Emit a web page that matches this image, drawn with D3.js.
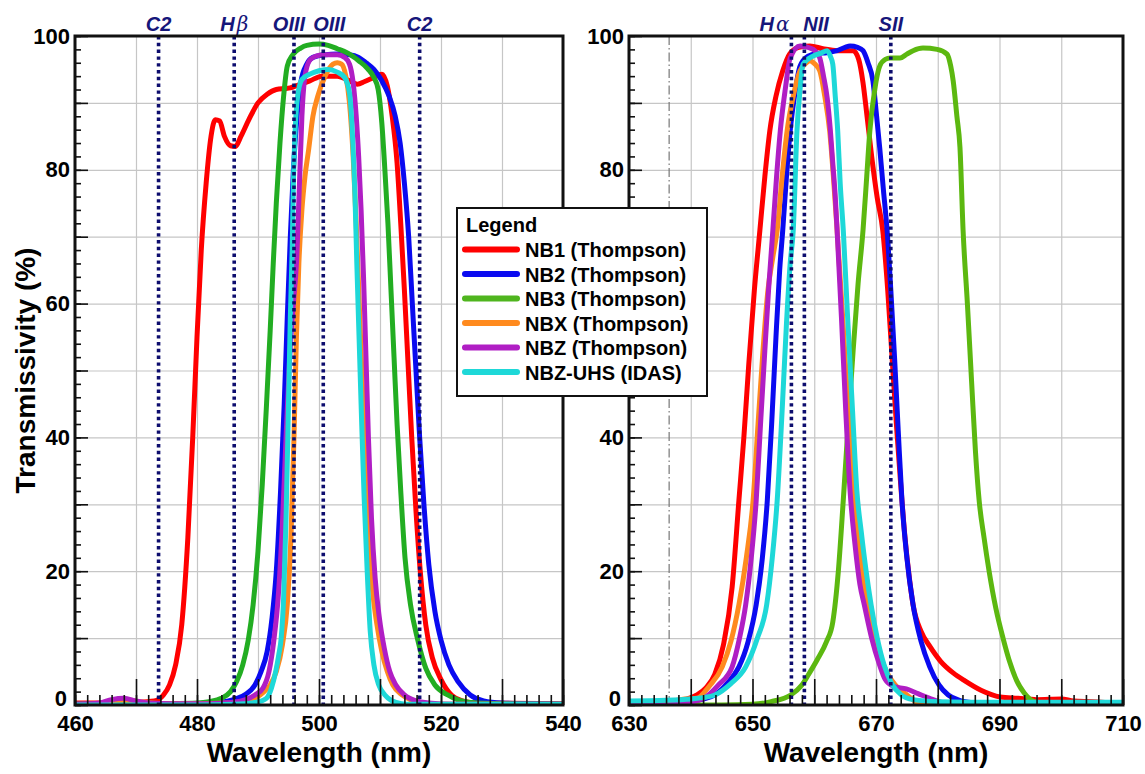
<!DOCTYPE html>
<html><head><meta charset="utf-8">
<script src="https://cdn.jsdelivr.net/npm/d3@7"></script>
<style>
body{margin:0;background:#fff}
svg{display:block}
text{font-family:Arial,"Liberation Sans",sans-serif}
</style>
</head><body>
<svg id="chart" width="1145" height="774"></svg>
<script>
// ---------------- DATA ----------------
const seriesNames = ["NB1 (Thompson)","NB2 (Thompson)","NB3 (Thompson)","NBX (Thompson)","NBZ (Thompson)","NBZ-UHS (IDAS)"];

const leftDomain = [460, 540];
const rightDomain = [630, 710];
const leftXTicks = [460, 480, 500, 520, 540];
const rightXTicks = [630, 650, 670, 690, 710];
const leftYTicks = [0, 20, 40, 60, 80, 100];
const rightYTicks = [0, 20, 40, 80, 100]; // "60" is covered by the legend in the reference

const leftLineWl = [473.7, 486.1, 495.9, 500.7, 516.5];
const leftLineLabels = ["C2", "Hβ", "OIII", "OIII", "C2"];
const rightLineWl = [656.3, 658.4, 672.4];
const rightLineLabels = ["Hα", "NII", "SII"];
const rightDashDotWl = [636.5];

// left panel (blue-green region)
const nb1Left = [[460,0.3],[465,0.3],[470,0.4],[473,0.6],[474.5,1.5],[475.5,3],[476.5,6],[477.5,12],[478.5,25],[479.3,40],[480,55],[480.7,68],[481.5,78],[482.3,85],[483,87.5],[483.7,87.3],[484.5,85],[485.5,83.6],[486.3,83.5],[487.2,85],[488.5,87.5],[490,90],[491.5,91.3],[493,92],[495,92.2],[497,92.8],[498.5,93.3],[500.5,94],[503,94],[505,93.3],[506.3,92.8],[507.5,93.2],[509,93.8],[510.3,94.3],[511.2,92.5],[512,88],[512.8,81],[513.4,72],[514,62],[514.6,51],[515.2,40],[515.9,29],[516.6,20],[517.5,12],[518.6,7],[520,3.8],[521.8,1.4],[523.5,0.6],[526,0.3],[540,0.2]];
const nb2Left = [[460,0.1],[480,0.2],[484,0.4],[486,0.8],[488,1.6],[489.5,3],[490.5,5],[491.5,8],[492.3,13],[493,20],[493.7,32],[494.3,45],[494.8,58],[495.3,70],[495.8,80],[496.4,88],[497,93],[498,95.8],[499,96.8],[501,97.2],[503,97.3],[505,97.2],[506.5,96.8],[507.7,96],[509,95],[510.3,93.3],[511.5,91],[512.5,88],[513.3,84],[514,78],[514.7,70],[515.3,60],[515.9,50],[516.5,40],[517.2,30],[518,21],[519,14],[520,9.7],[521.3,6],[522.8,3.5],[524.8,1.5],[527,0.6],[530,0.3],[535,0.2],[540,0.1]];
const nb3Left = [[460,0.1],[475,0.2],[480,0.3],[482,0.5],[484,1],[485.5,2],[486.5,3.5],[487.5,6],[488.4,9.7],[489.2,15],[490,23],[490.7,33],[491.4,45],[492,56],[492.5,66],[493,75],[493.6,84],[494.2,91],[494.8,95.5],[495.7,97.2],[497,98.2],[498,98.6],[500,98.8],[501.5,98.6],[503,98.1],[504.8,97.4],[506.5,96.3],[508,95.1],[509,93.8],[509.7,92],[510.3,87],[510.8,80],[511.3,72],[511.8,62],[512.3,52],[512.8,42],[513.4,32],[514.1,22],[515,15],[516.2,9.7],[517.5,5.5],[519,3],[521.1,1.5],[523,0.7],[526,0.3],[540,0.1]];
const nbxLeft = [[460,0.1],[464,0.2],[467,0.7],[469,0.7],[471,0.4],[475,0.2],[480,0.2],[485,0.3],[488,0.5],[489.5,1],[491,2],[492,3],[493,5],[494,9],[494.8,15],[495.4,25],[495.9,40],[496.3,55],[496.7,66],[497.2,74],[497.7,79],[498.3,83],[499,88],[499.8,91],[501,94],[502.3,95.8],[503,96],[503.7,95.8],[504.4,94],[505,90],[505.6,82],[506.1,72],[506.6,60],[507.1,48],[507.6,36],[508.2,25],[508.8,17],[509.5,12],[510.3,8],[511.2,5],[512.1,3],[513.5,1.6],[515,0.8],[517,0.3],[520,0.1],[540,0.1]];
const nbzLeft = [[460,0.1],[464,0.3],[466,0.8],[468,1],[470,0.6],[472,0.3],[476,0.2],[482,0.2],[486,0.4],[488,0.8],[489.5,1.5],[490.8,2.5],[491.8,5],[492.6,9.7],[493.3,16],[494,27],[494.6,40],[495.2,52],[495.8,60],[496.3,66],[496.8,78],[497.2,88],[497.7,94],[498.5,96.4],[499.5,97],[501,97.2],[503,97.2],[504.2,96.8],[505,95.8],[505.6,93],[506.1,88],[506.5,82],[506.9,74],[507.3,64],[507.7,52],[508.1,40],[508.6,28],[509.2,19],[509.9,13],[510.7,8.5],[511.6,5],[512.6,3],[514,1.5],[516,0.6],[518,0.3],[522,0.1],[540,0.1]];
const uhsLeft = [[460,0],[480,0],[486,0.1],[489,0.3],[490.5,0.6],[491.4,1],[492.2,2.5],[492.9,5],[493.4,7.5],[493.8,10],[494.2,16],[494.6,28],[495,45],[495.3,58],[495.6,68],[495.8,78],[496.1,86],[496.5,91],[497.2,93.5],[498.5,94.3],[500,94.8],[501.5,95],[503,94.6],[504.2,93.8],[505,91.5],[505.5,85],[505.9,76],[506.2,66],[506.6,54],[507,42],[507.4,31],[507.9,20],[508.4,11],[509,6],[509.8,3],[510.8,1.5],[512,0.6],[513.5,0.2],[515,0.1],[540,0.1]];

// right panel (red region)
const nb1Right = [[630,0.1],[634,0.2],[637,0.4],[639,0.8],[641,1.5],[642.5,2.6],[643.9,4.6],[645.3,9],[646.7,17.6],[647.8,30.6],[648.6,40],[649.4,51],[650.3,62],[651.2,71],[652,79],[652.8,85.8],[653.8,91],[654.9,94.8],[656,97.3],[657.5,98.3],[659.3,98.5],[661.4,98.1],[663.7,97.8],[666.3,97.8],[667.2,96.5],[667.9,93],[668.5,88.4],[669.3,82],[670.2,75.8],[671.1,70.9],[671.9,62],[672.6,52],[673.3,42],[674,33],[674.7,25],[675.4,19],[676,15],[677.3,11],[678.7,8.8],[680.5,6.5],[682.5,4.8],[684.4,3.6],[687,2.2],[690.1,1.2],[693,1],[696,0.8],[700,0.9],[702,0.6],[705,0.5],[710,0.2]];
const nb2Right = [[630,0.1],[636,0.2],[640,0.5],[642,0.9],[643.9,1.5],[645.5,2.8],[647,4.5],[647.8,5.7],[649.3,9.5],[650.6,15],[651.6,22],[652.4,30.6],[653.1,42],[653.8,55],[654.4,65],[654.9,71],[655.5,79],[656.1,85.8],[656.8,91],[657.7,95.5],[659,97],[660.5,97.4],[662,97.5],[663.7,97.8],[665,98.3],[665.8,98.5],[667,98.3],[667.9,97.8],[668.7,96],[669.5,93.3],[670.1,88],[670.6,83.3],[671.2,77],[671.8,70.9],[672.4,62],[673,52],[673.6,41],[674.2,30.6],[675,22],[676,15],[677.3,9.5],[678.7,5.7],[680.2,3],[681.7,1.5],[683.5,0.7],[686,0.3],[690,0.1],[710,0.1]];
const nb3Right = [[630,0],[645,0],[650,0.1],[653,0.5],[656.2,1.5],[658,3],[659.1,4.6],[660.5,6.8],[662,9.5],[663,12.4],[663.9,20],[664.7,30.6],[665.5,42],[666.3,53],[667.1,63],[667.9,71],[668.5,79],[669,85.8],[669.8,92],[670.6,95.5],[671.5,96.5],[672.3,96.7],[673.9,96.7],[675,97.3],[676,97.8],[677.6,98.2],[679.9,98],[681.5,97.3],[682.1,95.5],[682.5,93.3],[683.1,88],[683.6,83.3],[684.1,71],[684.8,60],[685.5,48],[686.1,38],[686.7,30.6],[687.5,25],[688.3,20.1],[689.4,14.5],[690.6,9.9],[691.7,6.3],[692.8,3.6],[694,1.8],[695.6,0.5],[698,0.1],[710,0]];
const nbxRight = [[630,0.1],[634,0.3],[637,0.6],[639,0.9],[641,1],[643,2.8],[645.1,5.7],[646.5,9.5],[647.8,15],[649,22],[650.1,30.6],[650.9,42],[651.7,53],[652.5,62],[653.3,67],[654,71],[654.8,79],[655.6,85.8],[656.6,91],[657.7,94.8],[658.5,95.8],[659.3,96.3],[660.1,95.8],[660.9,94.8],[661.7,91],[662.5,85.8],[663.1,79],[663.7,71],[664.6,58],[665.5,44],[666.4,32],[667.2,24],[668,18],[669.2,12.4],[670.8,7],[672,4.5],[673.1,3],[675,1.5],[677.2,0.2],[680,0],[710,0]];
const nbzRight = [[630,0],[636,0],[639,0.3],[642.1,1],[644.5,3],[646.7,5.7],[647.9,10],[648.9,15],[649.8,22],[650.6,30.6],[651.3,42],[652,53],[652.6,62],[653.3,71],[653.9,79],[654.5,85.8],[655.3,92],[656.1,96.7],[657.7,98.5],[659.3,98.2],[660.1,97.8],[660.9,96.7],[661.5,94],[662.1,90.7],[662.6,86],[663,81],[663.4,76],[663.7,71],[664.4,58],[665.1,44],[665.8,32],[666.6,24],[667.4,18],[668.1,15],[669.3,10],[670.5,6.2],[671.5,3.8],[672.8,2.8],[674.9,2.4],[676.8,1.7],[678.7,1],[681.7,0.2],[686,0],[710,0]];
const uhsRight = [[630,0.6],[636,0.7],[640,0.9],[642,1.1],[643.9,1.5],[646.5,3.2],[648.9,5.7],[650.8,10],[652.3,15],[653.2,22],[654,30.6],[654.8,44],[655.5,57],[656.1,66],[656.6,71],[657.2,85.8],[657.7,92],[658.2,95.8],[659.8,97],[661,97.4],[662.1,97.8],[662.6,97],[663,95.8],[663.4,91],[663.8,85.8],[664.2,78],[664.7,71],[665.4,58],[666.2,44],[666.9,32],[667.6,26],[668.4,20],[669.2,15],[670.2,10],[671.3,6],[672.6,3.1],[674,1.6],[676,0.8],[680,0.5],[690,0.4],[710,0.4]];

// ---------------- STYLE ----------------
const seriesColors = ["#ff0000","#0a0af0","#4fb51e","#ff8a1e","#b01ec4","#1ed8d8"];
const leftGreen = "#22ad22", rightGreen = "#5cb810";
const navy = "#0d0d6e";
// label placement for the emission-line names: [text-anchor, dx]
const leftLabelPlace = [["middle",0],["middle",0],["middle",-5],["middle",6],["middle",0]];
const rightLabelPlace = [["end",-2],["start",-1],["middle",0]];

// ---------------- DRAW ----------------
const svg = d3.select("#chart");
const yTop = 36, yBot = 705;
const y = d3.scaleLinear().domain([0, 100]).range([yBot, yTop]);
const fontFam = "Arial,'Liberation Sans',sans-serif";

function drawPanel(id, domain, x0, x1, xTicks, yTickVals, series, greenColor, lineWl, lineLabels, labelPlace, dashDot) {
  const x = d3.scaleLinear().domain(domain).range([x0, x1]);
  const g = svg.append("g");
  const w = x1 - x0, h = yBot - yTop;

  // grid
  g.append("g").attr("transform", `translate(0,${yTop})`)
    .call(d3.axisBottom(x).tickValues(d3.range(domain[0] + 10, domain[1], 10)).tickSize(h).tickFormat(""))
    .call(s => { s.select(".domain").remove(); s.selectAll("line").attr("stroke", "#c6c6c6").attr("stroke-width", 1.2); });
  g.append("g").attr("transform", `translate(${x0},0)`)
    .call(d3.axisLeft(y).tickValues(d3.range(10, 100, 10)).tickSize(-w).tickFormat(""))
    .call(s => { s.select(".domain").remove(); s.selectAll("line").attr("stroke", "#c6c6c6").attr("stroke-width", 1.2); });

  // dash-dot reference line
  dashDot.forEach(v => {
    g.append("line").attr("x1", x(v)).attr("x2", x(v)).attr("y1", yTop).attr("y2", yBot)
      .attr("stroke", "#777").attr("stroke-width", 1.2).attr("stroke-dasharray", "9,3,1.5,3");
  });

  // curves
  svg.append("clipPath").attr("id", "clip" + id).append("rect")
    .attr("x", x0).attr("y", yTop - 3).attr("width", w).attr("height", h + 3);
  const line = d3.line().x(d => x(d[0])).y(d => y(d[1])).curve(d3.curveMonotoneX);
  const cg = g.append("g").attr("clip-path", `url(#clip${id})`);
  series.forEach((s, i) => {
    cg.append("path").datum(s).attr("d", line).attr("fill", "none")
      .attr("stroke", i === 2 ? greenColor : seriesColors[i])
      .attr("stroke-width", 5).attr("stroke-linejoin", "round").attr("stroke-linecap", "round");
  });

  // dotted emission lines
  lineWl.forEach((v, i) => {
    g.append("line").attr("x1", x(v)).attr("x2", x(v)).attr("y1", yTop).attr("y2", yBot)
      .attr("stroke", navy).attr("stroke-width", 3.6).attr("stroke-dasharray", "3.4,3.4");
    const t = g.append("text").attr("x", x(v) + labelPlace[i][1]).attr("y", 31).attr("text-anchor", labelPlace[i][0])
      .attr("fill", "#16167a").attr("font-size", 20).attr("font-weight", "bold").attr("font-style", "italic");
    const lab = lineLabels[i];
    if (/[α-ω]/.test(lab)) {
      t.append("tspan").text(lab[0]);
      t.append("tspan").text(lab.slice(1)).attr("font-family", "'DejaVu Serif','Liberation Serif',serif")
        .attr("font-weight", "normal").attr("dx", 2);
    } else t.text(lab);
  });

  // frame
  g.append("rect").attr("x", x0).attr("y", yTop).attr("width", w).attr("height", h)
    .attr("fill", "none").attr("stroke", "#111").attr("stroke-width", 3);

  const styleTicks = s => { s.select(".domain").remove(); s.selectAll("line").attr("stroke", "#111").attr("stroke-width", 1.6); };
  // x minor / major ticks (inward)
  g.append("g").attr("transform", `translate(0,${yBot})`)
    .call(d3.axisBottom(x).tickValues(d3.range(domain[0], domain[1] + 0.01, 2)).tickSize(-10).tickFormat(""))
    .call(styleTicks);
  g.append("g").attr("transform", `translate(0,${yBot})`)
    .call(d3.axisBottom(x).tickValues(d3.range(domain[0], domain[1] + 0.01, 10)).tickSize(-26).tickFormat(""))
    .call(styleTicks);
  g.append("g").attr("transform", `translate(0,${yBot})`)
    .call(d3.axisBottom(x).tickValues(xTicks).tickSize(0).tickPadding(10).tickFormat(d3.format("d")))
    .call(s => { s.select(".domain").remove(); s.selectAll("text").attr("font-size", 22).attr("font-weight", "bold").attr("fill", "#000").attr("font-family", fontFam); });
  // y minor / major ticks
  g.append("g").attr("transform", `translate(${x0},0)`)
    .call(d3.axisLeft(y).tickValues(d3.range(0, 100.01, 2)).tickSize(-6).tickFormat(""))
    .call(styleTicks);
  g.append("g").attr("transform", `translate(${x0},0)`)
    .call(d3.axisLeft(y).tickValues(d3.range(0, 100.01, 10)).tickSize(-13).tickFormat(""))
    .call(styleTicks);
  g.append("g").attr("transform", `translate(${x0},0)`)
    .call(d3.axisLeft(y).tickValues(yTickVals).tickSize(0).tickPadding(5).tickFormat(d3.format("d")))
    .call(s => {
      s.select(".domain").remove();
      s.selectAll("text").attr("font-size", 22).attr("font-weight", "bold").attr("fill", "#000").attr("font-family", fontFam);
      s.selectAll(".tick").filter(d => d === 0).select("text").attr("dy", "0.03em").attr("x", -8);
    });

  // x title
  g.append("text").attr("x", (x0 + x1) / 2).attr("y", 762).attr("text-anchor", "middle")
    .attr("font-size", 28).attr("font-weight", "bold").text("Wavelength (nm)");
}

drawPanel("L", leftDomain, 75, 563, leftXTicks, leftYTicks, [nb1Left, nb2Left, nb3Left, nbxLeft, nbzLeft, uhsLeft], leftGreen, leftLineWl, leftLineLabels, leftLabelPlace, []);
drawPanel("R", rightDomain, 629, 1123, rightXTicks, rightYTicks, [nb1Right, nb2Right, nb3Right, nbxRight, nbzRight, uhsRight], rightGreen, rightLineWl, rightLineLabels, rightLabelPlace, rightDashDotWl);

// y title
svg.append("text").attr("transform", `translate(35,${(yTop + yBot) / 2}) rotate(-90)`)
  .attr("text-anchor", "middle").attr("font-size", 28).attr("font-weight", "bold").text("Transmissivity (%)");

// legend
const lg = svg.append("g");
lg.append("rect").attr("x", 457).attr("y", 208).attr("width", 250).attr("height", 188)
  .attr("fill", "#fff").attr("stroke", "#111").attr("stroke-width", 2);
lg.append("text").attr("x", 466).attr("y", 232).attr("font-size", 20).attr("font-weight", "bold").text("Legend");
seriesNames.forEach((n, i) => {
  const cy = 249.5 + i * 24.5;
  lg.append("line").attr("x1", 465).attr("x2", 517).attr("y1", cy).attr("y2", cy)
    .attr("stroke", seriesColors[i]).attr("stroke-width", 6).attr("stroke-linecap", "round");
  lg.append("text").attr("x", 525).attr("y", cy + 7.5).attr("font-size", 20).attr("font-weight", "bold").text(n);
});
</script>
</body></html>
